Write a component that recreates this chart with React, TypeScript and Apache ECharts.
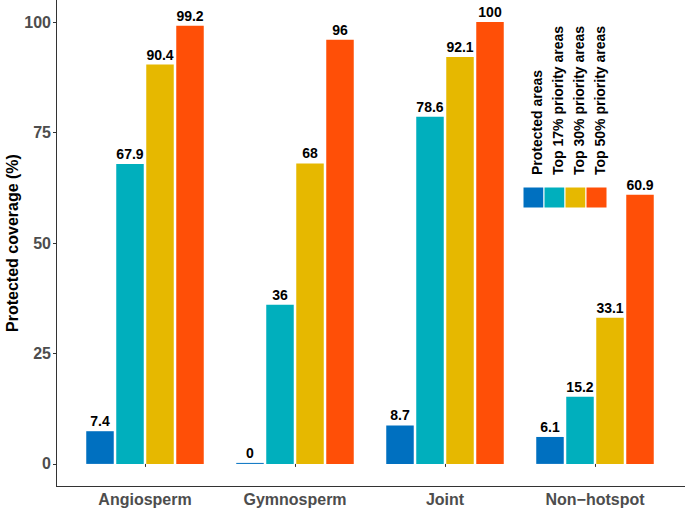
import React, { useEffect, useRef } from "react";
import * as echarts from "echarts";

const categories = ["Angiosperm", "Gymnosperm", "Joint", "Non\u2212hotspot"];
const seriesNames = [
  "Protected areas",
  "Top 17% priority areas",
  "Top 30% priority areas",
  "Top 50% priority areas",
];
const protectedAreas = [7.4, 0, 8.7, 6.1];
const top17 = [67.9, 36, 78.6, 15.2];
const top30 = [90.4, 68, 92.1, 33.1];
const top50 = [99.2, 96, 100, 60.9];
const yTicks = [0, 25, 50, 75, 100];
const colors = ["#0070C0", "#00AFBD", "#E6B800", "#FF4F07"];

const FONT = "'Liberation Sans', Arial, Helvetica, sans-serif";

export default function App() {
  const ref = useRef<HTMLDivElement>(null);
  useEffect(() => {
    if (!ref.current) return;
    const chart = echarts.init(ref.current, undefined, { renderer: "svg" });
    const values = [protectedAreas, top17, top30, top50];

    const legendKeyX = 523;
    const legendKeyW = 21;
    const legendGraphics: any[] = [];
    seriesNames.forEach((name, i) => {
      legendGraphics.push({
        type: "rect",
        shape: { x: legendKeyX + i * legendKeyW, y: 187, width: legendKeyW, height: 21 },
        style: { fill: colors[i], stroke: "#ffffff", lineWidth: 1 },
      });
      legendGraphics.push({
        type: "text",
        x: legendKeyX + i * legendKeyW + legendKeyW / 2 + 3,
        y: 175,
        rotation: Math.PI / 2,
        style: {
          text: name,
          fill: "#000000",
          font: `bold 14px ${FONT}`,
          align: "left",
          verticalAlign: "middle",
        },
      });
    });

    chart.setOption({
      animation: false,
      backgroundColor: "#ffffff",
      textStyle: { fontFamily: FONT },
      grid: {
        left: 70,
        right: 15,
        top: 0,
        bottom: 25,
        containLabel: false,
        outerBoundsMode: "none",
      },
      xAxis: {
        type: "category",
        data: categories,
        axisLine: { show: false },
        axisTick: { show: true, alignWithLabel: true, length: 3, lineStyle: { color: "#333333" } },
        axisLabel: {
          color: "#4D4D4D",
          fontWeight: "bold",
          fontSize: 16,
          fontFamily: FONT,
          margin: 5,
        },
      },
      yAxis: {
        type: "value",
        min: -5,
        max: 105,
        offset: 14,
        name: "Protected coverage (%)",
        nameLocation: "middle",
        nameGap: 36,
        nameMoveOverlap: false,
        nameTextStyle: { color: "#000000", fontWeight: "bold", fontSize: 16, fontFamily: FONT },
        axisLine: { show: true, lineStyle: { color: "#333333", width: 1 } },
        axisTick: { show: true, length: 3, customValues: yTicks, lineStyle: { color: "#333333" } },
        axisLabel: {
          customValues: yTicks,
          color: "#4D4D4D",
          fontWeight: "bold",
          fontSize: 16,
          fontFamily: FONT,
          margin: 5,
        },
        splitLine: { show: false },
      },
      graphic: [
        {
          type: "line",
          shape: { x1: 56, y1: 486.5, x2: 685, y2: 486.5 },
          style: { stroke: "#333333", lineWidth: 1 },
        },
        ...legendGraphics,
      ],
      series: seriesNames.map((name, i) => ({
        name,
        type: "bar",
        data: values[i],
        barWidth: 27.5,
        barGap: "9.1%",
        barMinHeight: i === 0 ? 1 : 0,
        itemStyle: { color: colors[i] },
        label: {
          show: true,
          position: "top",
          distance: 3,
          color: "#000000",
          fontWeight: "bold",
          fontSize: 14,
          fontFamily: FONT,
          formatter: "{c}",
        },
      })),
    });
    return () => chart.dispose();
  }, []);
  return (
    <div
      ref={ref}
      style={{ position: "fixed", left: 0, top: 0, width: 685, height: 511 }}
    />
  );
}
